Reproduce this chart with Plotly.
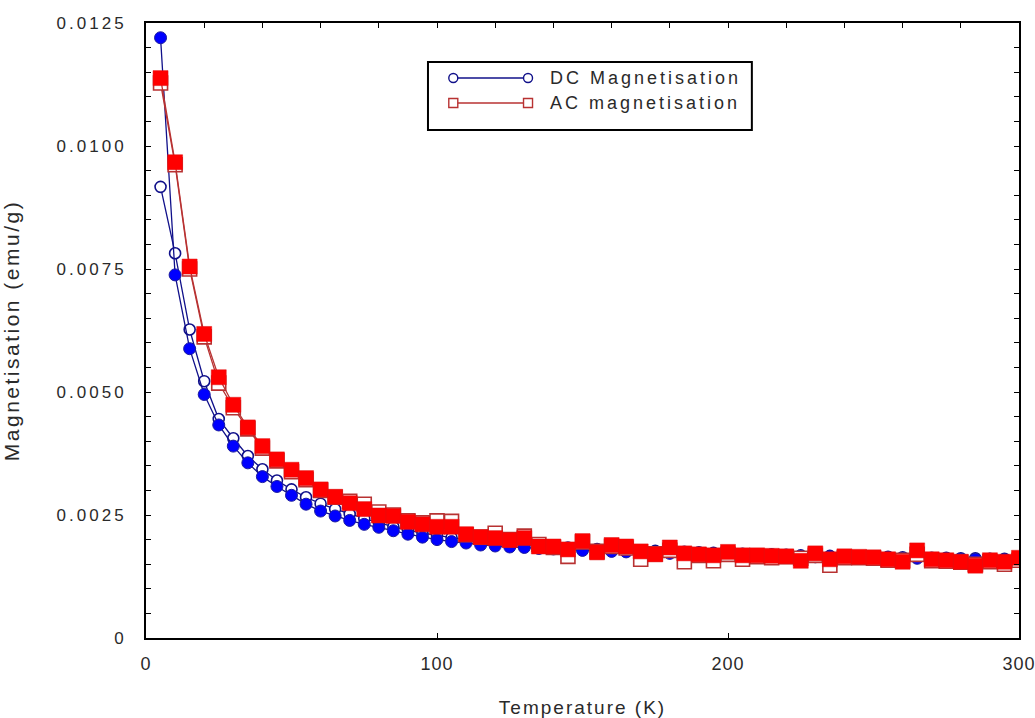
import plotly.graph_objects as go

# ---------------- data ----------------
temperature = list(range(5, 301, 5))

dc_filled = [0.0122, 0.00738, 0.00588, 0.00495, 0.00433, 0.00390, 0.00356, 0.00328, 0.00308, 0.00290,
             0.00272, 0.00258, 0.00248, 0.00239, 0.00231, 0.00225, 0.00218, 0.00211, 0.00205, 0.00200,
             0.00196, 0.00193, 0.00189, 0.00187, 0.00185, 0.00184, 0.00182, 0.00181, 0.00179, 0.00178,
             0.00177, 0.00176, 0.00175, 0.00174, 0.00173, 0.00172, 0.00171, 0.00170, 0.00170, 0.00169,
             0.00168, 0.00168, 0.00167, 0.00166, 0.00166, 0.00165, 0.00165, 0.00164, 0.00164, 0.00163,
             0.00163, 0.00162, 0.00162, 0.00161, 0.00161, 0.00160, 0.00160, 0.00160, 0.00159, 0.00159]

dc_open = [0.00917, 0.00782, 0.00627, 0.00522, 0.00445, 0.00406, 0.00370, 0.00343, 0.00320, 0.00302,
           0.00286, 0.00273, 0.00262, 0.00252, 0.00243, 0.00234, 0.00226, 0.00219, 0.00213, 0.00208,
           0.00204, 0.00200, 0.00197, 0.00194, 0.00192, 0.00190, 0.00188, 0.00186, 0.00184, 0.00183,
           0.00181, 0.00180, 0.00179, 0.00178, 0.00177, 0.00176, 0.00175, 0.00174, 0.00173, 0.00172,
           0.00171, 0.00170, 0.00170, 0.00169, 0.00168, 0.00168, 0.00167, 0.00166, 0.00166, 0.00165,
           0.00165, 0.00164, 0.00164, 0.00163, 0.00163, 0.00162, 0.00162, 0.00161, 0.00161, 0.00160]

ac_filled = [0.01138, 0.00967, 0.00755, 0.00618, 0.00530, 0.00474, 0.00428, 0.00390, 0.00363, 0.00342,
             0.00325, 0.00302, 0.00287, 0.00274, 0.00262, 0.00249, 0.00248, 0.00236, 0.00231, 0.00226,
             0.00226, 0.00211, 0.00205, 0.00203, 0.00199, 0.00203, 0.00186, 0.00186, 0.00180, 0.00197,
             0.00174, 0.00189, 0.00186, 0.00176, 0.00170, 0.00184, 0.00172, 0.00170, 0.00168, 0.00175,
             0.00168, 0.00168, 0.00167, 0.00166, 0.00157, 0.00172, 0.00160, 0.00166, 0.00165, 0.00164,
             0.00160, 0.00155, 0.00178, 0.00160, 0.00158, 0.00155, 0.00147, 0.00158, 0.00155, 0.00163]

ac_open = [0.01128, 0.00962, 0.00750, 0.00612, 0.00518, 0.00468, 0.00425, 0.00386, 0.00360, 0.00338,
           0.00322, 0.00300, 0.00286, 0.00278, 0.00272, 0.00256, 0.00250, 0.00238, 0.00234, 0.00238,
           0.00237, 0.00210, 0.00205, 0.00213, 0.00200, 0.00207, 0.00190, 0.00184, 0.00166, 0.00195,
           0.00176, 0.00186, 0.00183, 0.00160, 0.00171, 0.00178, 0.00155, 0.00168, 0.00157, 0.00170,
           0.00160, 0.00165, 0.00163, 0.00165, 0.00162, 0.00168, 0.00148, 0.00163, 0.00163, 0.00162,
           0.00158, 0.00158, 0.00170, 0.00157, 0.00156, 0.00154, 0.00150, 0.00155, 0.00150, 0.00158]

y_tickvals = [0, 0.0025, 0.0050, 0.0075, 0.0100, 0.0125]
y_ticklabels = ["0", "0.0025", "0.0050", "0.0075", "0.0100", "0.0125"]
x_tickvals = [0, 100, 200, 300]
x_ticklabels = ["0", "100", "200", "300"]
legend_labels = ["DC Magnetisation", "AC magnetisation"]
x_title = "Temperature (K)"
y_title = "Magnetisation (emu/g)"

# ---------------- styles ----------------
DC_LINE = "#10108a"
DC_FILL = "#0000ff"
AC_LINE = "#b83232"
AC_FILL = "#ff0000"
FONT = "Liberation Sans, Arial, sans-serif"
TXT = "#2a2a2a"


def spaced(s, px):
    return '<span style="letter-spacing:%spx">%s</span>' % (px, s)


fig = go.Figure()

fig.add_trace(go.Scatter(
    x=temperature, y=dc_open, mode="lines+markers", name=legend_labels[0],
    line=dict(color=DC_LINE, width=1.3),
    marker=dict(symbol="circle", size=11, color="white", line=dict(color=DC_LINE, width=1.6)),
    showlegend=False))
fig.add_trace(go.Scatter(
    x=temperature, y=dc_filled, mode="lines+markers", name=legend_labels[0] + " (filled)",
    line=dict(color=DC_LINE, width=1.3),
    marker=dict(symbol="circle", size=12, color=DC_FILL, line=dict(color="#1a1aa0", width=1)),
    showlegend=False))
fig.add_trace(go.Scatter(
    x=temperature, y=ac_open, mode="lines+markers", name=legend_labels[1],
    line=dict(color=AC_LINE, width=1.3),
    marker=dict(symbol="square", size=14, color="white", line=dict(color=AC_LINE, width=1.6)),
    showlegend=False))
# top-most series lives on the (identical) overlaying top axis so the top ticks get drawn
fig.add_trace(go.Scatter(
    x=temperature, y=ac_filled, mode="lines+markers", name=legend_labels[1] + " (filled)", xaxis="x2",
    line=dict(color=AC_LINE, width=1.3),
    marker=dict(symbol="square", size=15, color=AC_FILL, line=dict(color="#e01010", width=0.5)),
    showlegend=False))

# ---------------- custom legend (paper coordinates) ----------------
shapes = [dict(type="rect", xref="paper", yref="paper", x0=0.323, x1=0.694, y0=0.826, y1=0.9366,
               line=dict(color="black", width=2), fillcolor="white", layer="above")]
annotations = []
rows = [(0.9106, DC_LINE, "circle"), (0.8699, AC_LINE, "rect")]
for (yy, col, kind), lab in zip(rows, legend_labels):
    xa, xb = 0.352, 0.4376
    shapes.append(dict(type="line", xref="paper", yref="paper", x0=xa, x1=xb, y0=yy, y1=yy,
                       line=dict(color=col, width=1.3), layer="above"))
    for xm in (xa, xb):
        shapes.append(dict(type=kind, xref="paper", yref="paper", xsizemode="pixel", ysizemode="pixel",
                           xanchor=xm, yanchor=yy, x0=-4.5, x1=4.5, y0=-4.5, y1=4.5,
                           line=dict(color=col, width=1.4), fillcolor="white", layer="above"))
    annotations.append(dict(xref="paper", yref="paper", x=0.460, y=yy, text=spaced(lab, 3), showarrow=False,
                            xanchor="left", yanchor="middle",
                            font=dict(family=FONT, size=18, color=TXT)))

fig.update_layout(
    width=1035, height=718,
    margin=dict(l=146, r=16, t=23, b=80),
    paper_bgcolor="white", plot_bgcolor="white",
    showlegend=False,
    font=dict(family=FONT, color=TXT),
    shapes=shapes, annotations=annotations,
    xaxis=dict(range=[0, 300], tickvals=x_tickvals, ticktext=[spaced(t, 1) for t in x_ticklabels],
               ticks="inside", ticklen=5, tickwidth=1.2, tickcolor="black",
               showline=True, linecolor="black", linewidth=2, mirror=True,
               showgrid=False, zeroline=False, ticklabeloverflow="allow",
               tickfont=dict(family=FONT, size=18, color=TXT), ticklabelstandoff=8,
               title=dict(text=spaced(x_title, 2), font=dict(family=FONT, size=19, color=TXT), standoff=30),
               automargin=False),
    xaxis2=dict(range=[0, 300], matches="x", overlaying="x", side="top", anchor="y", dtick=20, tick0=0,
                ticks="inside", ticklen=5, tickwidth=1.2, tickcolor="black",
                showticklabels=False, showline=False, showgrid=False, zeroline=False),
    yaxis=dict(range=[0, 0.0125], tickvals=y_tickvals, ticktext=[spaced(t, 3) for t in y_ticklabels],
               ticks="inside", ticklen=5, tickwidth=1.2, tickcolor="black",
               minor=dict(dtick=0.0005, tick0=0, ticks="inside", ticklen=4, tickwidth=1.2, tickcolor="black"),
               showline=True, linecolor="black", linewidth=2, mirror="allticks",
               showgrid=False, zeroline=False, ticklabeloverflow="allow",
               tickfont=dict(family=FONT, size=17, color=TXT), ticklabelstandoff=14,
               title=dict(text=spaced(y_title, 2.5), font=dict(family=FONT, size=21, color=TXT), standoff=36),
               automargin=False),
)

fig.write_html("out.html")
